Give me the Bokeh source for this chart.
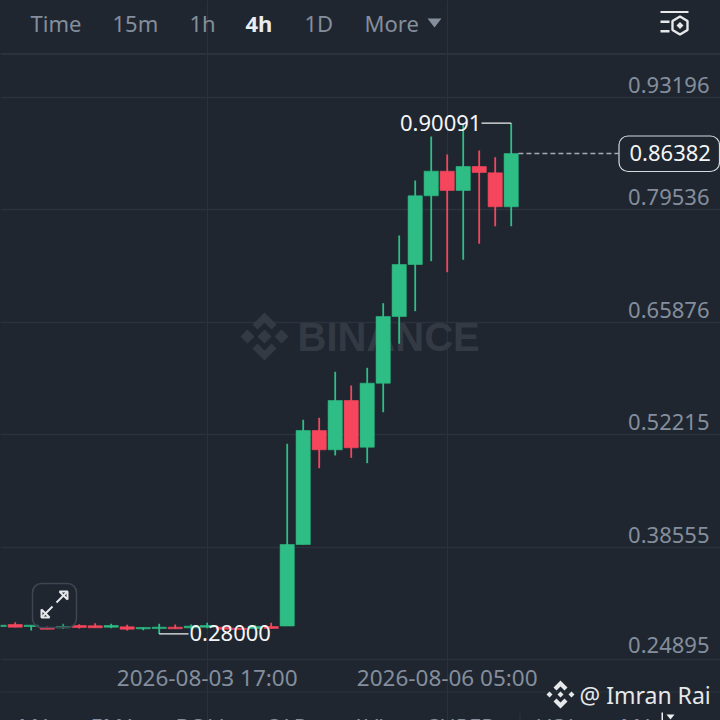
from bokeh.plotting import figure
from bokeh.embed import file_html
from bokeh.resources import INLINE
from bokeh.models import (Range1d, FixedTicker, Label, BoxAnnotation, PolyAnnotation,
                          DatetimeTickFormatter, ColumnDataSource)
import pandas as pd
import numpy as np

BG = "#1F2630"
GRID = "#2B323C"
MUTED = "#848E9C"
GREEN = "#2EBD85"
RED = "#F6465D"
FONT = "Noto Sans"

opens = [0.28906, 0.29150, 0.28906, 0.28748, 0.28748, 0.29028, 0.28992, 0.28821, 0.28870, 0.28627, 0.28663,
         0.28821, 0.28748, 0.28821, 0.28821, 0.28700, 0.28663, 0.28906,
         0.28967, 0.38872, 0.52727, 0.50381, 0.56372, 0.50697, 0.58475, 0.66581, 0.72900, 0.81250,
         0.84239, 0.81894, 0.84810, 0.84045, 0.79913]
highs = [0.29064, 0.29429, 0.29064, 0.28906, 0.29235, 0.29186, 0.29308, 0.29235, 0.29113, 0.28821, 0.29235,
         0.29150, 0.29150, 0.29356, 0.28821, 0.28700, 0.29064, 0.29356,
         0.51110, 0.54027, 0.54270, 0.59860, 0.58195, 0.60346, 0.68197, 0.76425, 0.83109, 0.88456,
         0.86269, 0.89915, 0.86755, 0.85941, 0.90091]
lows = [0.28906, 0.28821, 0.28420, 0.28578, 0.28627, 0.28663, 0.28748, 0.28700, 0.28420, 0.28457, 0.28000,
        0.28627, 0.28542, 0.28700, 0.28578, 0.28542, 0.28542, 0.28663,
        0.28967, 0.38872, 0.48145, 0.49688, 0.49409, 0.48753, 0.54951, 0.63263, 0.67225, 0.73302,
        0.71965, 0.73472, 0.75416, 0.77555, 0.77555]
closes = [0.29064, 0.28821, 0.29064, 0.28578, 0.28906, 0.28785, 0.28748, 0.29028, 0.28578, 0.28785, 0.28821,
          0.28627, 0.28943, 0.29028, 0.28578, 0.28542, 0.28906, 0.28663,
          0.38872, 0.52727, 0.50381, 0.56372, 0.50624, 0.58475, 0.66581, 0.72900, 0.81250, 0.84239,
          0.81894, 0.84810, 0.84081, 0.79913, 0.86382]
price_ticks = [0.93196, 0.79536, 0.65876, 0.52215, 0.38555, 0.24895]
time_ticks = ["2026-08-03 17:00", "2026-08-06 05:00"]
menu_labels = ["Time", "15m", "1h", "4h", "1D", "More"]
indicator_labels = ["MA", "EMA", "BOLL", "SAR", "AVL", "SUPER", "VOL", "MA"]
last_price = 0.86382
high_label = 0.90091
low_label = 0.28000

H4 = 4 * 3600 * 1000
t13 = pd.Timestamp(time_ticks[0]).value / 1e6
times = np.array([t13 + (i - 13) * H4 for i in range(len(opens))])
tick_ms = [pd.Timestamp(t).value / 1e6 for t in time_ticks]

PXI = 16.0
x0 = t13 + ((0 - 206.7) / PXI) * H4
x1 = t13 + ((720 - 206.7) / PXI) * H4
scale = (0.93196 - 0.24895) / 562.0


def dx(px):
    return x0 + px / 720 * (x1 - x0)


def dy(py):
    return 0.93196 - (py - 97) * scale


p = figure(width=720, height=720, output_backend="svg", toolbar_location=None,
           x_axis_type="datetime", y_axis_location=None,
           x_range=Range1d(x0, x1), y_range=Range1d(dy(720), dy(0)),
           background_fill_color=BG, border_fill_color=BG,
           min_border=0, min_border_left=0, min_border_right=0, min_border_top=0, min_border_bottom=0,
           styles={"position": "fixed", "left": "0px", "top": "0px", "background-color": BG})
p.outline_line_color = None

ax = p.xaxis[0]
ax.ticker = FixedTicker(ticks=tick_ms)
ax.formatter = DatetimeTickFormatter(hours="%Y-%m-%d %H:%M", days="%Y-%m-%d %H:%M", months="%Y-%m-%d %H:%M",
                                     minutes="%Y-%m-%d %H:%M", context=None)
ax.axis_line_color = None
ax.major_tick_line_color = None
ax.minor_tick_line_color = None
ax.major_tick_out = 0
ax.major_tick_in = 0
ax.minor_tick_out = 0
ax.major_label_text_color = MUTED
ax.major_label_text_font = FONT
ax.major_label_text_font_size = "22.5px"
ax.major_label_standoff = -59
p.xgrid.grid_line_color = GRID
p.xgrid.grid_line_width = 1
p.xgrid.bounds = (dy(659), dy(54))
p.ygrid.ticker = FixedTicker(ticks=price_ticks)
p.ygrid.grid_line_color = GRID
p.ygrid.grid_line_width = 1.5


def box(l, t, r, b, **kw):
    kw.setdefault("level", "overlay")
    a = BoxAnnotation(left=dx(l), right=dx(r), top=dy(t), bottom=dy(b), **kw)
    p.add_layout(a)
    return a


def poly(pts, **kw):
    kw.setdefault("level", "overlay")
    kw.setdefault("line_alpha", 1)
    a = PolyAnnotation(xs=[dx(q[0]) for q in pts], ys=[dy(q[1]) for q in pts], **kw)
    p.add_layout(a)
    return a


def label(text, px, py, size, color=MUTED, style="normal", align="left", font=FONT, level="overlay", **kw):
    a = Label(x=dx(px), y=dy(py), text=text, text_color=color, text_font=font, text_font_size=f"{size}px",
              text_font_style=style, text_align=align, text_baseline="middle", level=level, **kw)
    p.add_layout(a)
    return a


# panel rules
box(0, 52.5, 720, 54.5, fill_color=GRID, fill_alpha=1, line_color=None, level="underlay")
box(0, 691, 720, 692, fill_color=GRID, fill_alpha=1, line_color=None, level="underlay")

# watermark
WM = "#343A44"
poly([(264, 329), (271, 336), (264, 343), (257, 336)], fill_color=WM, fill_alpha=1, line_color=None, level="underlay")
for pts in [[(264, 312), (276, 324), (271, 329), (264, 322), (257, 329), (252, 324)],
            [(264, 360), (276, 348), (271, 343), (264, 350), (257, 343), (252, 348)],
            [(247, 329), (254, 336), (247, 343), (240, 336)],
            [(281, 329), (288, 336), (281, 343), (274, 336)]]:
    poly(pts, fill_color=WM, fill_alpha=1, line_color=None, level="underlay")
label("BINANCE", 297, 336, 40, color=WM, style="bold", font="Liberation Sans", level="underlay")

# candles
up = np.array(closes) >= np.array(opens)
colors = [GREEN if u else RED for u in up]
src = ColumnDataSource(dict(t=times, o=opens, h=highs, l=lows, c=closes, col=colors))
p.segment("t", "h", "t", "l", source=src, line_color="col", line_width=1.8)
p.vbar("t", H4 * 14.2 / 16, "o", "c", source=src, fill_color="col", line_color="col", line_width=0.6)

# high and low markers
p.line([dx(481), times[32]], [high_label, high_label], line_color="#F0F1F2", line_width=1.2)
p.line([times[10], dx(188)], [low_label, low_label], line_color="#F0F1F2", line_width=1.2)
label(f"{high_label:.5f}", 399.5, 122, 22, color="#F4F5F6")
label(f"{low_label:.5f}", 189, 632.5, 22, color="#F4F5F6")

# last price
p.line([times[32] + H4 * 0.45, dx(618)], [last_price, last_price], line_color="#A6ABB3", line_width=1.4, line_dash="5 3")

# price labels
for v in price_ticks:
    a = Label(x=dx(709), y=v, text=f"{v:.5f}", text_color=MUTED, text_font=FONT, text_font_size="22px",
              text_align="right", text_baseline="middle", y_offset=14.5 if v == min(price_ticks) else 12.5)
    p.add_layout(a)
box(618.5, 135.5, 719, 171, fill_color=BG, fill_alpha=1, line_color="#D5D8DC", line_alpha=1, line_width=1.2, border_radius=9)
label(f"{last_price:.5f}", 629, 152.5, 22, color="#F4F5F6")

# menu
menu_x = [30, 112, 189, 245, 304, 364]
for t, x in zip(menu_labels, menu_x):
    sel = t == "4h"
    label(t, x, 22.5, 22, color="#EAECEF" if sel else MUTED, style="bold" if sel else "normal")
poly([(427, 18), (441, 18), (434, 27)], fill_color=MUTED, fill_alpha=1, line_color=None)

# top-right icon
WH = "#E6E8EA"
box(660, 10.5, 688, 12.5, fill_color=WH, fill_alpha=1, line_color=None)
box(660, 20, 669, 22.5, fill_color=WH, fill_alpha=1, line_color=None)
box(660, 29.5, 669, 32, fill_color=WH, fill_alpha=1, line_color=None)
poly([(679.5, 16), (687, 20.5), (687, 29.5), (679.5, 34), (672, 29.5), (672, 20.5)], fill_alpha=0, line_color=WH, line_width=2.4)
poly([(679.5, 21.5), (683, 25), (679.5, 28.5), (676, 25)], fill_color=WH, fill_alpha=1, line_color=None)

# expand button
AR = "#E6E8EA"
box(32, 583, 76, 627, fill_color=BG, fill_alpha=0.25, line_color="#3F4651", line_alpha=1, line_width=1.5, border_radius=9)
poly([(41, 617), (52, 606)], fill_alpha=0, line_color=AR, line_width=2)
poly([(41, 609), (41, 617), (49, 617)], fill_alpha=0, line_color=AR, line_width=2)
poly([(67, 591), (56, 602)], fill_alpha=0, line_color=AR, line_width=2)
poly([(59, 591), (67, 591), (67, 599)], fill_alpha=0, line_color=AR, line_width=2)

# footer
for t, x in zip(indicator_labels, [18, 90, 175, 267, 351, 427, 537, 620]):
    label(t, x, 725, 22, color=MUTED)
box(519, 713, 520, 720, fill_color=GRID, fill_alpha=1, line_color=None)
box(661, 712, 662.5, 720, fill_color="#F0F1F2", fill_alpha=1, line_color=None)
poly([(666, 714), (674, 714), (670, 719)], fill_color="#F0F1F2", fill_alpha=1, line_color=None)
label("@ Imran Rai", 579, 694, 23, color="#E6E8EA")
LG = "#E6E8EA"
poly([(560, 680), (567, 687), (564, 690), (560, 686), (556, 690), (553, 687)], fill_color=LG, fill_alpha=1, line_color=None)
poly([(560, 708), (567, 701), (564, 698), (560, 702), (556, 698), (553, 701)], fill_color=LG, fill_alpha=1, line_color=None)
poly([(560, 691), (563, 694), (560, 697), (557, 694)], fill_color=LG, fill_alpha=1, line_color=None)
poly([(549, 691), (552, 694), (549, 697), (546, 694)], fill_color=LG, fill_alpha=1, line_color=None)
poly([(571, 691), (574, 694), (571, 697), (568, 694)], fill_color=LG, fill_alpha=1, line_color=None)

open("out.html", "w").write(file_html(p, INLINE))
